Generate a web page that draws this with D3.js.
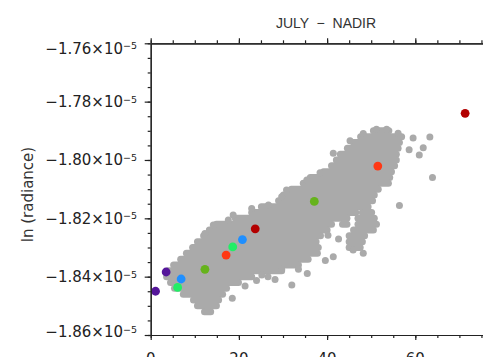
<!DOCTYPE html>
<html>
<head>
<meta charset="utf-8">
<script src="https://cdn.jsdelivr.net/npm/d3@7"></script>
<style>
  html, body { margin: 0; padding: 0; background: #fff; overflow: hidden; }
</style>
</head>
<body>
<div id="chart"></div>
<script>
// all y values are in units of 1e-5 (ln radiance)
var xTicks = [0, 20, 40, 60];
var xTickLabels = ['0', '20', '40', '60'];
var yTicks = [-1.76, -1.78, -1.80, -1.82, -1.84, -1.86];
var yTickLabels = ['−1.76×10', '−1.78×10', '−1.80×10', '−1.82×10', '−1.84×10', '−1.86×10'];
var yTickExp = '−5';

// dense grey cloud, read row by row: [y, x from, x to]
var cloudRows = [
  [-1.790, 50.5, 54.0], [-1.792, 47.6, 56.9], [-1.794, 46.0, 56.4], [-1.796, 44.6, 56.1],
  [-1.798, 43.0, 55.7], [-1.800, 42.1, 55.7], [-1.802, 41.0, 55.3], [-1.804, 39.2, 54.6],
  [-1.806, 36.2, 54.2], [-1.808, 34.6, 53.9], [-1.810, 31.9, 51.6], [-1.812, 30.1, 50.7],
  [-1.814, 29.0, 50.3], [-1.816, 25.1, 49.3],
  [-1.818, 22.9, 46.5], [-1.818, 48.0, 50.1],
  [-1.820, 19.2, 44.5], [-1.820, 47.0, 50.7],
  [-1.822, 14.9, 41.0], [-1.822, 43.5, 44.5], [-1.822, 47.0, 51.2],
  [-1.824, 13.3, 40.0], [-1.824, 46.0, 50.5],
  [-1.826, 12.0, 38.5], [-1.826, 45.0, 48.5],
  [-1.828, 10.6, 37.5], [-1.828, 45.0, 48.0],
  [-1.830, 9.5, 38.0], [-1.830, 45.0, 47.5],
  [-1.832, 8.1, 37.8], [-1.834, 6.8, 35.7], [-1.836, 5.2, 33.5],
  [-1.838, 4.0, 29.7], [-1.840, 3.6, 22.9], [-1.842, 4.5, 19.9], [-1.844, 5.4, 17.2],
  [-1.846, 7.4, 16.3], [-1.848, 9.7, 15.4], [-1.850, 10.6, 14.9], [-1.852, 12.2, 13.6]
];

// single grey points on the cloud edges and outliers
var strayX = [59.5, 63.3, 58.6, 61.8, 60.9, 63.9, 56.4, 41.4, 45.9, 48.2, 33.5, 35.5,
              28.2, 26.6, 32.0, 18.5, 56.1, 12.3, 14.2, 17.6, 18.7, 22.9, 26.7, 29.7,
              30.8, 35.4, 38.4, 41.4, 45.2, 48.2, 51.2, 53.5, 25.2, 29.7, 40.2, 42.6,
              39.6, 24.0, 21.4];
var strayY = [-1.7925, -1.7921, -1.7965, -1.7958, -1.7983, -1.8060, -1.8156, -1.8332, -1.8309, -1.8320, -1.8375, -1.8389,
              -1.8410, -1.8400, -1.8429, -1.8474, -1.7908, -1.8252, -1.8223, -1.8206, -1.8189, -1.8166, -1.8154, -1.8126,
              -1.8103, -1.8069, -1.8044, -1.7977, -1.7934, -1.7909, -1.7895, -1.7895, -1.8394, -1.8375, -1.8258, -1.8271,
              -1.8345, -1.8413, -1.8432];

// highlighted points
var markX = [1.1, 3.5, 6.9, 6.1, 12.3, 17.1, 18.6, 20.8, 23.7, 37.1, 51.5, 71.3];
var markY = [-1.8450, -1.8384, -1.8408, -1.8437, -1.8375, -1.8326, -1.8298, -1.8273, -1.8236, -1.8142, -1.8021, -1.7840];
var markColor = ['#55169a', '#55169a', '#1f8fff', '#22ee66', '#66b31c', '#ff3814',
                 '#22ee66', '#1f8fff', '#b30000', '#66b31c', '#ff3814', '#b30000'];

var W = 483, H = 357;
var svg = d3.select('#chart').append('svg').attr('width', W).attr('height', H);
var x = d3.scaleLinear().domain([0, 80]).range([150.7, 503.5]);
var y = d3.scaleLinear().domain([-1.86, -1.76]).range([335, 43.3]);
var GREY = '#aaaaaa', INK = '#222';
var FONT = 'DejaVu Sans, sans-serif';

// cloud
svg.append('g').selectAll('line').data(cloudRows).join('line')
  .attr('x1', function(d) { return x(d[1]); }).attr('x2', function(d) { return x(d[2]); })
  .attr('y1', function(d) { return y(d[0]); }).attr('y2', function(d) { return y(d[0]); })
  .attr('stroke', GREY).attr('stroke-width', 7).attr('stroke-linecap', 'round');

svg.append('g').selectAll('circle').data(strayX).join('circle')
  .attr('cx', function(d) { return x(d); }).attr('cy', function(d, i) { return y(strayY[i]); })
  .attr('r', 3.5).attr('fill', GREY);

svg.append('g').selectAll('circle').data(markX).join('circle')
  .attr('cx', function(d) { return x(d); }).attr('cy', function(d, i) { return y(markY[i]); })
  .attr('r', 4.4).attr('fill', function(d, i) { return markColor[i]; });

// axes: major + minor ticks pointing out
function styleAxis(g) {
  g.selectAll('path, line').attr('stroke', INK).attr('stroke-width', 1.2);
  g.selectAll('text').remove();
}
var xMajor = [0, 20, 40, 60, 80], xMinor = d3.range(0, 81, 5);
var yMajor = yTicks, yMinor = d3.range(0, 21).map(function(i) { return -1.86 + i * 0.005; });

[[d3.axisBottom, 335], [d3.axisTop, 43.3]].forEach(function(a) {
  svg.append('g').attr('transform', 'translate(0,' + a[1] + ')')
    .call(a[0](x).tickValues(xMajor).tickSize(5).tickSizeOuter(0)).call(styleAxis);
  svg.append('g').attr('transform', 'translate(0,' + a[1] + ')')
    .call(a[0](x).tickValues(xMinor).tickSize(3).tickSizeOuter(0)).call(styleAxis);
});
svg.append('g').attr('transform', 'translate(150.7,0)')
  .call(d3.axisLeft(y).tickValues(yMajor).tickSize(6).tickSizeOuter(0)).call(styleAxis);
svg.append('g').attr('transform', 'translate(150.7,0)')
  .call(d3.axisLeft(y).tickValues(yMinor).tickSize(3).tickSizeOuter(0)).call(styleAxis);

// tick labels (bottom row is cut by the picture edge, as in the original)
svg.append('g').selectAll('text').data(xTicks).join('text')
  .attr('x', function(d) { return x(d); }).attr('y', 364)
  .attr('text-anchor', 'middle').attr('font-family', FONT).attr('font-size', 15).attr('fill', INK)
  .text(function(d, i) { return xTickLabels[i]; });

var yl = svg.append('g').selectAll('text').data(yTicks).join('text')
  .attr('x', 137).attr('y', function(d) { return Math.min(331.7, Math.max(48.5, y(d))); })
  .attr('dy', '0.36em').attr('text-anchor', 'end')
  .attr('font-family', FONT).attr('font-size', 15).attr('fill', INK);
yl.append('tspan').text(function(d, i) { return yTickLabels[i]; });
yl.append('tspan').attr('dy', -4.5).attr('font-size', 9.5).text(yTickExp);

svg.append('text')
  .attr('transform', 'translate(33,194.5) rotate(-90)')
  .attr('text-anchor', 'middle').attr('font-family', FONT).attr('font-size', 15).attr('fill', '#333')
  .text('ln (radiance)');

svg.append('text').attr('x', 326).attr('y', 28.3).attr('text-anchor', 'middle')
  .attr('font-family', 'Liberation Sans, Arial, sans-serif').attr('font-size', 14).attr('fill', '#333')
  .style('white-space', 'pre').text('JULY  −  NADIR');
</script>
</body>
</html>
